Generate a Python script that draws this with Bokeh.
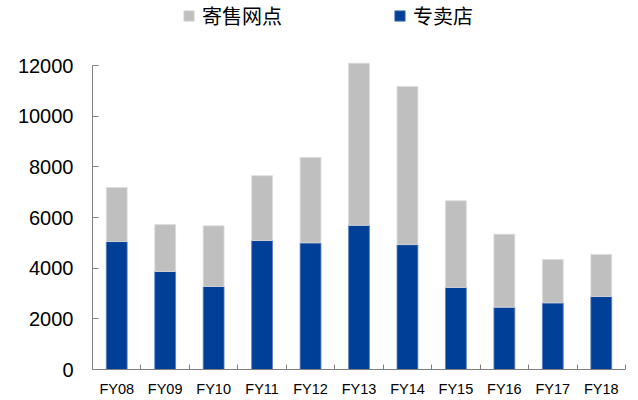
from bokeh.plotting import figure
from bokeh.models import (ColumnDataSource, Range1d, FixedTicker, Legend, LegendItem)
from bokeh.embed import file_html
from bokeh.resources import INLINE

# Fiscal years and outlet counts (stacked: stores at the bottom, consignment on top)
years = ["FY08", "FY09", "FY10", "FY11", "FY12", "FY13", "FY14", "FY15", "FY16", "FY17", "FY18"]
stores = [5050, 3870, 3280, 5090, 5000, 5690, 4930, 3240, 2460, 2630, 2880]
consignment = [2130, 1850, 2390, 2560, 3370, 6400, 6240, 3420, 2880, 1710, 1660]
y_ticks = [0, 2000, 4000, 6000, 8000, 10000, 12000]

BLUE = "#003F98"
GREY = "#BFBFBF"
AXIS = "#808080"

# the frame runs to the top of the canvas so the legend sits inside it;
# the axis itself stops at 12000
FRAME_H = 369
AXIS_PX = 304
y_end = 12000 * FRAME_H / AXIS_PX

pos = list(range(1, len(years) + 1))
source = ColumnDataSource(dict(pos=pos, stores=stores, consignment=consignment))

p = figure(width=638, height=400, output_backend="svg", toolbar_location=None,
           x_range=Range1d(0.5, len(years) + 0.5), y_range=Range1d(0, y_end),
           min_border_left=92, min_border_right=13, min_border_top=0, min_border_bottom=31)
p.outline_line_color = None
p.grid.visible = False
p.background_fill_color = "white"
p.border_fill_color = "white"

r_store, r_cons = p.vbar_stack(["stores", "consignment"], x="pos", width=0.43,
                               color=[BLUE, GREY], source=source)
r_store.glyph.line_color = "#5a7dbd"
r_store.glyph.line_width = 0.8
r_cons.glyph.line_color = "#dcdcdc"
r_cons.glyph.line_width = 0.8

# y axis: inward ticks, bounded at 12000
ya = p.yaxis[0]
ya.ticker = FixedTicker(ticks=y_ticks)
ya.bounds = (0, 12000)
ya.axis_line_color = AXIS
ya.major_tick_line_color = AXIS
ya.major_tick_in = 6
ya.major_tick_out = 0
ya.minor_tick_line_color = None
ya.major_label_standoff = 19
ya.major_label_text_font = "Liberation Sans"
ya.major_label_text_font_size = "20px"
ya.major_label_text_color = "#000000"
ya.formatter.use_scientific = False

# x axis: labels at bar centres, small ticks at category boundaries
xa = p.xaxis[0]
xa.ticker = FixedTicker(ticks=pos, minor_ticks=[i + 0.5 for i in range(0, len(years) + 1)])
xa.major_label_overrides = {i: y for i, y in zip(pos, years)}
xa.axis_line_color = AXIS
xa.major_tick_line_color = None
xa.minor_tick_line_color = AXIS
xa.minor_tick_in = 5
xa.minor_tick_out = 0
xa.major_label_standoff = 5
xa.major_label_text_font = "Liberation Sans"
xa.major_label_text_font_size = "14.5px"
xa.major_label_text_color = "#000000"

legend = Legend(items=[LegendItem(label="寄售网点", renderers=[r_cons]),
                       LegendItem(label="专卖店", renderers=[r_store])],
                location=(90, 339), orientation="horizontal",
                glyph_width=13, glyph_height=13, label_standoff=7, spacing=111,
                padding=0, margin=0, border_line_color=None, background_fill_alpha=0,
                label_text_font="Noto Sans CJK SC", label_text_font_size="20px",
                label_text_color="#000000")
p.add_layout(legend, "center")

open("out.html", "w").write(file_html(p, INLINE))
